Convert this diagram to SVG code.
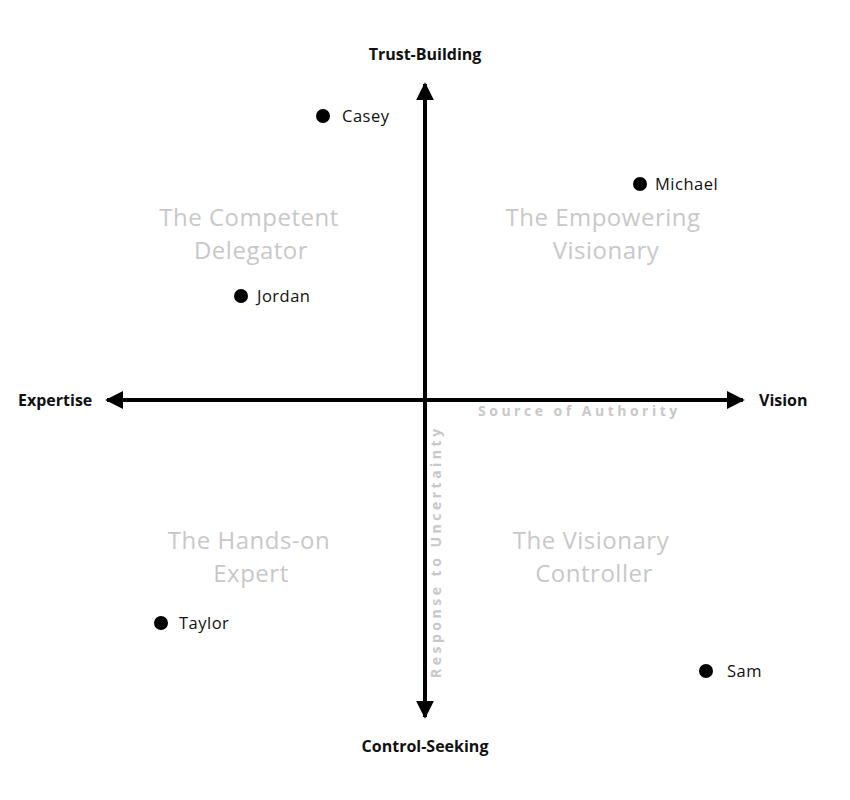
<svg xmlns="http://www.w3.org/2000/svg" width="850" height="800" viewBox="0 0 850 800">
<style>
.axislbl{font-family:"Open Sans","Liberation Sans",sans-serif;font-weight:bold;font-size:16px;fill:#111}
.quad{font-family:"Open Sans","Liberation Sans",sans-serif;font-size:24px;letter-spacing:0.5px;fill:#c8c8c8;text-anchor:middle}
.dimlbl{font-family:"Open Sans","Liberation Sans",sans-serif;font-weight:bold;font-size:14px;fill:#c8c8c8;letter-spacing:3.5px}
.name{font-family:"Open Sans","Liberation Sans",sans-serif;font-size:16.5px;letter-spacing:0.5px;fill:#111}
.dot{fill:#000}
.axis{stroke:#000;stroke-width:4;fill:none}
</style>
<defs>
<marker id="ah" viewBox="0 0 10 10" refX="9" refY="5" markerWidth="4.5" markerHeight="4.5" markerUnits="strokeWidth" orient="auto">
<path d="M0,0 L10,5 L0,10 Z" fill="#000"/>
</marker>
</defs>
<rect width="850" height="800" fill="#fff"/>
<g id="connectors">
<line class="axis" x1="425" y1="400" x2="425" y2="84" marker-end="url(#ah)"/>
<line class="axis" x1="425" y1="400" x2="425" y2="717" marker-end="url(#ah)"/>
<line class="axis" x1="425" y1="400" x2="107" y2="400" marker-end="url(#ah)"/>
<line class="axis" x1="425" y1="400" x2="743" y2="400" marker-end="url(#ah)"/>
</g>
<g id="axis-labels">
<text class="axislbl" x="425" y="60" text-anchor="middle">Trust-Building</text>
<text class="axislbl" x="425" y="752" text-anchor="middle">Control-Seeking</text>
<text class="axislbl" x="18" y="406">Expertise</text>
<text class="axislbl" x="759" y="406">Vision</text>
<text class="dimlbl" x="478" y="416">Source of Authority</text>
<text class="dimlbl" transform="translate(441,678) rotate(-90)">Response to Uncertainty</text>
</g>
<g id="quadrant-competent-delegator">
<text class="quad" x="249" y="226">The Competent</text>
<text class="quad" x="251" y="259">Delegator</text>
</g>
<g id="quadrant-empowering-visionary">
<text class="quad" x="603" y="226">The Empowering</text>
<text class="quad" x="606" y="259">Visionary</text>
</g>
<g id="quadrant-hands-on-expert">
<text class="quad" x="249" y="549">The Hands-on</text>
<text class="quad" x="251" y="582">Expert</text>
</g>
<g id="quadrant-visionary-controller">
<text class="quad" x="591" y="549">The Visionary</text>
<text class="quad" x="594" y="582">Controller</text>
</g>
<g id="casey"><circle class="dot" cx="323" cy="116" r="7"/><text class="name" x="342" y="122">Casey</text></g>
<g id="michael"><circle class="dot" cx="640" cy="184" r="7"/><text class="name" x="655" y="190">Michael</text></g>
<g id="jordan"><circle class="dot" cx="241" cy="296" r="7"/><text class="name" x="257" y="302">Jordan</text></g>
<g id="taylor"><circle class="dot" cx="161" cy="623" r="7"/><text class="name" x="179" y="629">Taylor</text></g>
<g id="sam"><circle class="dot" cx="706" cy="671" r="7"/><text class="name" x="727" y="677">Sam</text></g>
</svg>
